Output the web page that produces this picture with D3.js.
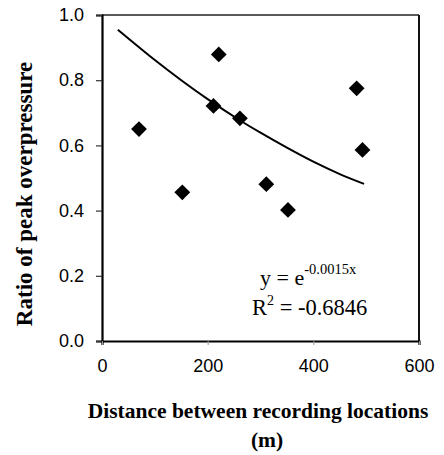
<!DOCTYPE html>
<html>
<head>
<meta charset="utf-8">
<script src="https://cdn.jsdelivr.net/npm/d3@7"></script>
<style>
  html, body { margin: 0; padding: 0; background: #fff; }
  svg { display: block; }
</style>
</head>
<body>
<svg id="chart" width="444" height="455"></svg>
<script>
// ---- data ----
const distances = [70, 152, 211, 221, 261, 311, 352, 482, 493];
const ratios    = [0.650, 0.456, 0.721, 0.879, 0.683, 0.481, 0.402, 0.775, 0.586];
// trend line points
const trendX = [30, 100, 150, 200, 260, 300, 350, 400, 450, 496];
const trendY = [0.955, 0.862, 0.800, 0.742, 0.678, 0.639, 0.593, 0.550, 0.512, 0.482];
const xTicks = [0, 200, 400, 600];
const yTicks = [0.0, 0.2, 0.4, 0.6, 0.8, 1.0];
const xTitle = "Distance between recording locations";
const xTitle2 = "(m)";
const yTitle = "Ratio of peak overpressure";
const eqBase = "y = e";
const eqSup = "-0.0015x";
const r2Text = "R";
const r2Sup = "2";
const r2Rest = " = -0.6846";

// ---- layout ----
const L = 102, R = 419, T = 15, B = 341;
const svg = d3.select("#chart");
const x = d3.scaleLinear().domain([0, 600]).range([L, R]);
const y = d3.scaleLinear().domain([0, 1]).range([B, T]);

// frame top/right
svg.append("line").attr("x1", L).attr("x2", R).attr("y1", T).attr("y2", T)
  .attr("stroke", "#222").attr("stroke-width", 1.5);
svg.append("line").attr("x1", R).attr("x2", R).attr("y1", T).attr("y2", B)
  .attr("stroke", "#111").attr("stroke-width", 2);

// axes
const yAxis = svg.append("g").attr("transform", `translate(${L},0)`)
  .call(d3.axisLeft(y).tickValues(yTicks).tickFormat(d3.format(".1f")).tickSize(6).tickPadding(12));
const xAxis = svg.append("g").attr("transform", `translate(0,${B})`)
  .call(d3.axisBottom(x).tickValues(xTicks).tickFormat(d3.format("d")).tickSize(4).tickPadding(14));

[yAxis, xAxis].forEach(g => {
  g.select(".domain").attr("stroke", "#000").attr("stroke-width", 2.2);
  g.selectAll(".tick line").attr("stroke", "#333").attr("stroke-width", 1.2);
  g.selectAll(".tick text").attr("fill", "#000")
    .style("font-family", "'Liberation Sans', Arial, sans-serif").style("font-size", "18px");
});
xAxis.selectAll(".tick line").attr("stroke", "#999").attr("stroke-width", 1);
xAxis.selectAll(".tick text").attr("dy", "0.71em");

// trend curve
const line = d3.line().x((d, i) => x(trendX[i])).y(d => y(d)).curve(d3.curveCatmullRom);
svg.append("path").datum(trendY).attr("d", line)
  .attr("fill", "none").attr("stroke", "#000").attr("stroke-width", 2);

// diamonds
const sym = d3.symbol().type(d3.symbolSquare).size(125);
svg.selectAll("path.pt").data(distances).enter().append("path")
  .attr("class", "pt")
  .attr("d", sym)
  .attr("transform", (d, i) => `translate(${x(d)},${y(ratios[i])}) rotate(45)`)
  .attr("fill", "#000");

// equation text
const serif = "'Liberation Serif', 'Times New Roman', serif";
const eq = svg.append("text").attr("x", 260).attr("y", 285)
  .style("font-family", serif).style("font-size", "22px").attr("fill", "#000");
eq.append("tspan").text(eqBase);
eq.append("tspan").attr("dy", -11).style("font-size", "14.5px").text(eqSup);

const r2 = svg.append("text").attr("x", 252).attr("y", 315)
  .style("font-family", serif).style("font-size", "22.5px").attr("fill", "#000");
r2.append("tspan").text(r2Text);
r2.append("tspan").attr("dy", -10).style("font-size", "14px").text(r2Sup);
r2.append("tspan").attr("dy", 10).text(r2Rest);

// axis titles
svg.append("text").attr("x", 258).attr("y", 418).attr("text-anchor", "middle")
  .style("font-family", serif).style("font-weight", "bold").style("font-size", "21.5px")
  .text(xTitle);
svg.append("text").attr("x", 267).attr("y", 447).attr("text-anchor", "middle")
  .style("font-family", serif).style("font-weight", "bold").style("font-size", "21.5px")
  .text(xTitle2);
svg.append("text").attr("transform", "translate(32,194) rotate(-90)").attr("text-anchor", "middle")
  .style("font-family", serif).style("font-weight", "bold").style("font-size", "23px")
  .text(yTitle);
</script>
</body>
</html>
